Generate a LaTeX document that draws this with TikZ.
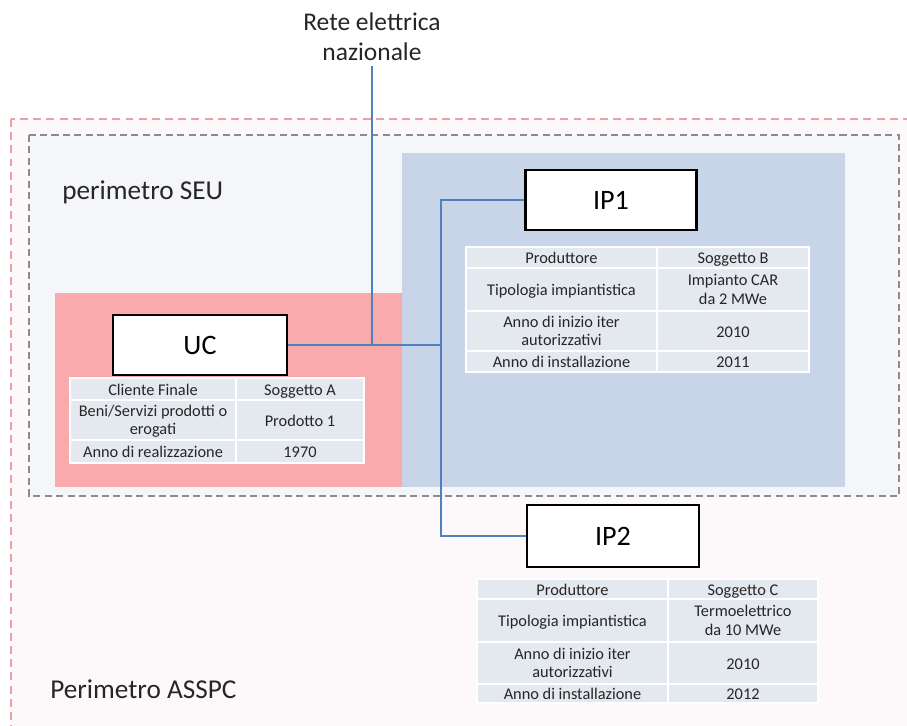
\documentclass[tikz,border=0pt]{standalone}
\usepackage{fontspec}
\setmainfont{Carlito}
\usetikzlibrary{positioning,calc}
\definecolor{lineablu}{RGB}{79,129,189}
\definecolor{asspcfill}{RGB}{253,249,250}
\definecolor{asspcbordo}{RGB}{235,160,165}
\definecolor{seufill}{RGB}{245,246,250}
\definecolor{seubordo}{RGB}{140,140,140}
\definecolor{blufill}{RGB}{200,213,233}
\definecolor{rosafill}{RGB}{248,170,172}
\definecolor{cellafill}{RGB}{228,232,239}

\begin{document}
\begin{tikzpicture}[
  x=0.02cm, y=-0.02cm,
  unita/.style={
    draw=black,
    line width=1.5pt,
    fill=white,
    minimum height=1.2cm,
    inner sep=0pt,
    font=\fontsize{16}{19}\selectfont
  },
  cella/.style={
    fill=cellafill,
    draw=white,
    line width=1pt
  },
  testocella/.style={
    align=center,
    inner sep=0pt,
    yshift=-1.5pt,
    text=black!85,
    font=\fontsize{9.3}{10.4}\selectfont,
    execute at begin node=\strut,
    execute at end node=\strut
  },
  collegamento/.style={
    draw=lineablu,
    line width=1.2pt
  },
  etichetta/.style={
    inner sep=0pt,
    text=black!85,
    font=\fontsize{15.5}{18}\selectfont
  }
]
\useasboundingbox (0,0) rectangle (907,726);
\clip (0,0) rectangle (907,726);
\fill[white] (0,0) rectangle (907,726);

% -------- Perimetri --------
\draw[fill=asspcfill, draw=asspcbordo, line width=0.8pt, dash pattern=on 4.5pt off 3pt]
  (11,119) rectangle (940,760);
\draw[fill=seufill, draw=seubordo, line width=0.8pt, dash pattern=on 4pt off 2.5pt]
  (29,135) rectangle (899,496);
\fill[blufill] (402,153) rectangle (845,487);
\fill[rosafill] (55,293) rectangle (402,487);

\node[etichetta, anchor=west] (seu) at (62,192) {perimetro SEU};
\node[etichetta, anchor=west] (asspc) at (50,689) {Perimetro ASSPC};

% -------- Rete --------
\node[align=center, inner sep=3pt, text=black!85, font=\fontsize{14.5}{17}\selectfont]
  (rete) at (372,37) {Rete elettrica\\nazionale};

% -------- Unita --------
\node[unita, minimum width=3.48cm] (uc) at (200,345) {UC};
\node[unita, minimum width=3.42cm] (ip1) at (611,200) {IP1};
\node[unita, minimum width=3.44cm, minimum height=1.24cm] (ip2) at (613,536) {IP2};

% -------- Collegamenti --------
\coordinate (bus) at (441,0);
\draw[collegamento] (rete.south) -- (rete.south |- uc.east);
\draw[collegamento] (uc.east) -- (uc.east -| bus);
\draw[collegamento] (ip1.west) -- (ip1.west -| bus) -- (ip2.west -| bus) -- (ip2.west);

% -------- Tabella UC --------
\draw[cella] (70,378) rectangle node[testocella] {Cliente Finale} (236,400);
\draw[cella] (236,378) rectangle node[testocella] {Soggetto A} (364,400);
\draw[cella] (70,400) rectangle node[testocella] {Beni/Servizi prodotti o\\erogati} (236,440);
\draw[cella] (236,400) rectangle node[testocella] {Prodotto 1} (364,440);
\draw[cella] (70,440) rectangle node[testocella] {Anno di realizzazione} (236,463);
\draw[cella] (236,440) rectangle node[testocella] {1970} (364,463);

% -------- Tabella IP1 --------
\draw[cella] (466,247) rectangle node[testocella] {Produttore} (657,268);
\draw[cella] (657,247) rectangle node[testocella] {Soggetto B} (809,268);
\draw[cella] (466,268) rectangle node[testocella] {Tipologia impiantistica} (657,311);
\draw[cella] (657,268) rectangle node[testocella] {Impianto CAR\\da 2 MWe} (809,311);
\draw[cella] (466,311) rectangle node[testocella] {Anno di inizio iter\\autorizzativi} (657,351);
\draw[cella] (657,311) rectangle node[testocella] {2010} (809,351);
\draw[cella] (466,351) rectangle node[testocella] {Anno di installazione} (657,372);
\draw[cella] (657,351) rectangle node[testocella] {2011} (809,372);

% -------- Tabella IP2 --------
\draw[cella] (477,579) rectangle node[testocella] {Produttore} (668,599);
\draw[cella] (668,579) rectangle node[testocella] {Soggetto C} (818,599);
\draw[cella] (477,599) rectangle node[testocella] {Tipologia impiantistica} (668,642);
\draw[cella] (668,599) rectangle node[testocella] {Termoelettrico\\da 10 MWe} (818,642);
\draw[cella] (477,642) rectangle node[testocella] {Anno di inizio iter\\autorizzativi} (668,684);
\draw[cella] (668,642) rectangle node[testocella] {2010} (818,684);
\draw[cella] (477,684) rectangle node[testocella] {Anno di installazione} (668,703);
\draw[cella] (668,684) rectangle node[testocella] {2012} (818,703);

\end{tikzpicture}
\end{document}
